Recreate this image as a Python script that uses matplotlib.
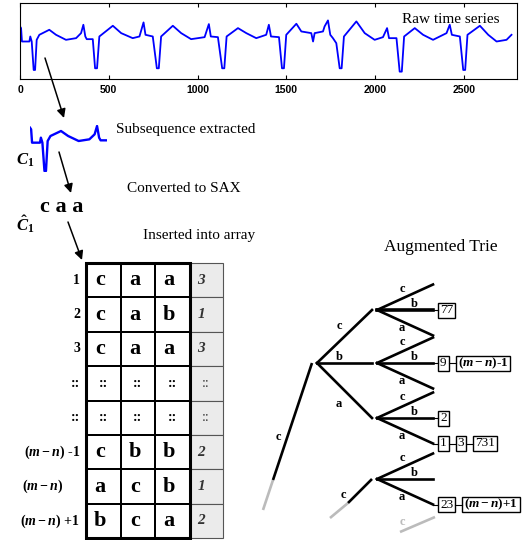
import matplotlib
matplotlib.use('Agg')
import matplotlib.pyplot as plt
import matplotlib.patches as patches

plt.rcParams['font.family'] = 'Liberation Serif'
plt.rcParams['mathtext.fontset'] = 'custom'
plt.rcParams['mathtext.rm'] = 'Liberation Serif:bold'
plt.rcParams['mathtext.it'] = 'Liberation Serif:italic:bold'
plt.rcParams['mathtext.bf'] = 'Liberation Serif:bold'

# raw time series, vertices (time index, amplitude)
ts_x = [0, 6, 11, 53, 58, 66, 77, 85, 94, 109, 165, 203, 259, 316, 344, 357, 368, 376,
        410, 423, 434, 447, 523, 570, 635, 673, 696, 707, 748, 771, 782, 795, 861, 908,
        964, 1040, 1064, 1075, 1115, 1139, 1151, 1164, 1228, 1275, 1331, 1387, 1402, 1414,
        1459, 1476, 1487, 1500, 1557, 1585, 1641, 1651, 1660, 1707, 1716, 1735, 1748, 1763,
        1782, 1801, 1812, 1825, 1895, 1942, 1998, 2045, 2068, 2079, 2121, 2139, 2151, 2164,
        2224, 2271, 2327, 2403, 2421, 2433, 2478, 2497, 2508, 2521, 2591, 2638, 2685, 2741,
        2769]
ts_y = [157, 152, 112, 112, 127, 112, 27, 27, 117, 132, 147, 132, 117, 122, 137, 162, 127, 119,
        119, 32, 32, 127, 159, 137, 122, 127, 169, 132, 127, 32, 32, 127, 159, 137,
        119, 125, 164, 127, 125, 32, 32, 127, 152, 137, 122, 132, 162, 127,
        125, 32, 32, 132, 165, 142, 137, 112, 137, 142, 157, 175, 132, 122,
        107, 32, 32, 127, 172, 137, 117, 125, 152, 122, 122, 22, 22, 127,
        152, 132, 117, 137, 162, 132, 127, 27, 27, 132, 159, 132, 112, 117,
        132]
ts_ticks = [0, 500, 1000, 1500, 2000, 2500]
sub_window = (0, 410)

sax_word = ['c', 'a', 'a']

MN = r'$(m - n)$'
array_labels = ['1', '2', '3', '::', '::', MN + ' -1', MN, MN + ' +1']
array_words = [['c', 'a', 'a'], ['c', 'a', 'b'], ['c', 'a', 'a'],
               ['::', '::', '::'], ['::', '::', '::'],
               ['c', 'b', 'b'], ['a', 'c', 'b'], ['b', 'c', 'a']]
array_counts = ['3', '1', '3', '::', '::', '2', '1', '2']

branch_letters = ['c', 'b', 'a']
# (node group, branch letter) -> linked list of positions stored at the leaf
leaf_lists = {
    (0, 'b'): ['77'],
    (1, 'b'): ['9', MN + '-1'],
    (2, 'b'): ['2'],
    (2, 'a'): ['1', '3', '731'],
    (3, 'a'): ['23', MN + '+1'],
}

fig = plt.figure(figsize=(5.3, 5.4), dpi=100)

# raw time series
ax = fig.add_axes([20 / 530, 1 - 79 / 540, 497 / 530, 76 / 540])
ax.plot(ts_x, ts_y, color='#0000ff', lw=1.3)
ax.set_xlim(0, 2800)
ax.set_ylim(0, 227)
ax.set_yticks([])
ax.set_xticks(ts_ticks)
ax.tick_params(axis='x', direction='in', top=True, length=3, pad=4, labelsize=7.5)
for lab in ax.get_xticklabels():
    lab.set_fontfamily('Liberation Sans')
    lab.set_fontweight('bold')
ax.text(0.965, 0.78, 'Raw time series', transform=ax.transAxes, ha='right', va='center',
        fontsize=11)

# extracted subsequence
sub = fig.add_axes([30 / 530, 1 - 172 / 540, 77 / 530, 47 / 540])
sx = [x for x in ts_x if sub_window[0] <= x <= sub_window[1]]
sy = [y for x, y in zip(ts_x, ts_y) if sub_window[0] <= x <= sub_window[1]]
sub.plot(sx, sy, color='#0000ff', lw=1.7)
sub.set_xlim(sub_window)
sub.set_ylim(24, 165)
sub.axis('off')

# overlay in pixel coordinates
ov = fig.add_axes([0, 0, 1, 1])
ov.set_xlim(0, 530)
ov.set_ylim(540, 0)
ov.axis('off')


def arrow(start, tip):
    ov.annotate('', xy=tip, xytext=start,
                arrowprops=dict(arrowstyle='-|>', color='k', lw=1.1, mutation_scale=13,
                                shrinkA=0, shrinkB=0))


arrow((45, 58), (64, 118))
arrow((59, 152), (71, 193))
arrow((68, 222), (82, 260))

ov.text(116, 129, 'Subsequence extracted', fontsize=11, va='center')
ov.text(16, 160, r'$C_{\mathit{1}}$', fontsize=12, va='center')
ov.text(127, 189, 'Converted to SAX', fontsize=11, va='center')
ov.text(40, 207, ' '.join(sax_word), fontsize=16, fontweight='bold', va='center')
ov.text(16, 224, r'$\hat{C}_{\mathit{1}}$', fontsize=12, va='center')
ov.text(143, 236, 'Inserted into array', fontsize=11, va='center')

# array of SAX words
x0, y0 = 86, 263
cw, rh, gw = 34.5, 34.4, 33
for i, (lab, word, cnt) in enumerate(zip(array_labels, array_words, array_counts)):
    yt = y0 + i * rh
    yc = yt + rh / 2
    for j, ch in enumerate(word):
        ov.add_patch(patches.Rectangle((x0 + j * cw, yt), cw, rh, fill=False,
                                       edgecolor='k', lw=1.4))
        if ch == '::':
            ov.text(x0 + (j + 0.5) * cw, yc, ch, ha='center', va='center', fontsize=10,
                    fontweight='bold')
        else:
            ov.text(x0 + (j + 0.5) * cw - 3, yc, ch, ha='center', va='center', fontsize=16,
                    fontweight='bold')
    ov.add_patch(patches.Rectangle((x0 + 3 * cw, yt), gw, rh, facecolor='#ebebeb',
                                   edgecolor='#555555', lw=0.8))
    if cnt == '::':
        ov.text(x0 + 3 * cw + gw / 2, yc, cnt, ha='center', va='center', fontsize=10,
                color='#333333')
    else:
        ov.text(x0 + 3 * cw + 8, yc, cnt, ha='left', va='center', fontsize=11,
                style='italic', fontweight='bold', color='#333333')
    if lab == MN:
        ov.text(22, yc, lab, ha='left', va='center', fontsize=10, fontweight='bold')
    else:
        ov.text(80, yc, lab, ha='right', va='center', fontsize=10, fontweight='bold')
ov.add_patch(patches.Rectangle((x0, y0), 3 * cw, 8 * rh, fill=False, edgecolor='k', lw=2.2))

# augmented trie
ov.text(441, 247, 'Augmented Trie', fontsize=12.5, ha='center', va='center')
grey = '#bbbbbb'
LW = 1.9
ov.plot([263, 273], [510, 480], color=grey, lw=LW, solid_capstyle='butt')
ov.plot([273, 312], [480, 363], color='k', lw=LW, solid_capstyle='butt')
ov.text(278, 437, 'c', fontsize=9, fontweight='bold', ha='center', va='center')
ov.plot([330, 348], [518, 503], color=grey, lw=LW, solid_capstyle='butt')
ov.plot([348, 372], [503, 479], color='k', lw=LW, solid_capstyle='butt')
ov.text(343, 495, 'c', fontsize=9, fontweight='bold', ha='center', va='center')
ov.plot([400, 435], [532, 517], color=grey, lw=LW, solid_capstyle='butt')
ov.text(402, 522, 'c', fontsize=9, fontweight='bold', ha='center', va='center', color=grey)

root = (317, 363)
level2 = [(377, 310), (377, 363), (377, 418), (377, 479)]
for k, letter in enumerate(branch_letters):
    nx, ny = level2[k]
    ov.plot([root[0], nx - 5], [root[1], ny], color='k', lw=LW)
    ly = {'c': ny + 16, 'b': ny - 6, 'a': ny - 14}[letter]
    ov.text(339, ly, letter, fontsize=9, fontweight='bold', ha='center', va='center')

renderer = fig.canvas.get_renderer()
for g, (nx, ny) in enumerate(level2):
    for k, letter in enumerate(branch_letters):
        ey = ny + (k - 1) * 25.5
        ov.plot([nx, 433], [ny, ey], color='k', lw=2.6 if (g == 0 and letter == 'b') else LW)
        if letter == 'c':
            ov.text(402, ny - 21, 'c', fontsize=9, fontweight='bold', ha='center', va='center')
        elif letter == 'b':
            ov.text(414, ny - 6, 'b', fontsize=9, fontweight='bold', ha='center', va='center')
        else:
            ov.text(402, ny + 18, 'a', fontsize=9, fontweight='bold', ha='center', va='center')
        items = leaf_lists.get((g, letter))
        if not items:
            continue
        bx = 438
        ov.plot([433, bx], [ey, ey], color='k', lw=0.8)
        for n, item in enumerate(items):
            if n > 0:
                ov.plot([bx - 7, bx], [ey, ey], color='k', lw=0.8)
            t = ov.text(bx + 2, ey, item, fontsize=9.5, ha='left', va='center',
                        fontweight='bold' if '$' in item else 'normal')
            w = t.get_window_extent(renderer).width + 4
            ov.add_patch(patches.Rectangle((bx, ey - 7.5), w, 15, fill=False,
                                           edgecolor='k', lw=1))
            bx += w + 7

fig.savefig('out.png', dpi=100)
